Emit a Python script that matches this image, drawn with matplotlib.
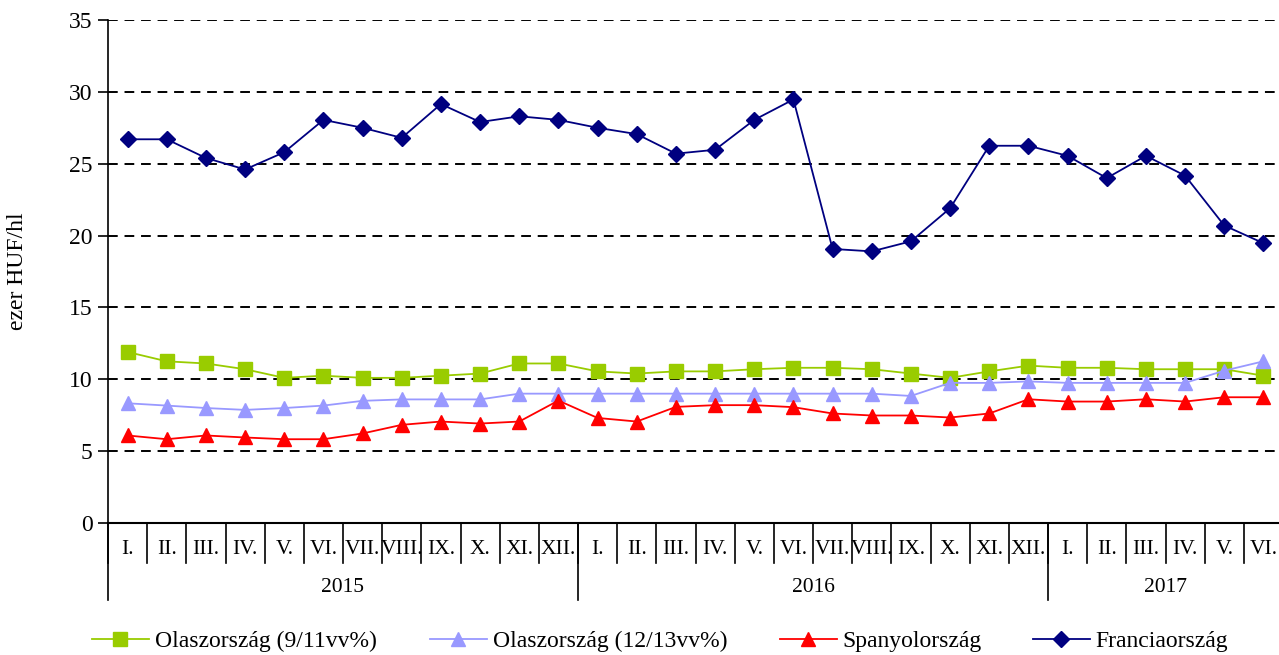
import matplotlib
matplotlib.use("Agg")
import matplotlib.pyplot as plt
import matplotlib.transforms as mtransforms

plt.rcParams['font.family'] = ['Liberation Serif', 'DejaVu Serif']

months = ["I.", "II.", "III.", "IV.", "V.", "VI.", "VII.", "VIII.", "IX.", "X.", "XI.", "XII.",
          "I.", "II.", "III.", "IV.", "V.", "VI.", "VII.", "VIII.", "IX.", "X.", "XI.", "XII.",
          "I.", "II.", "III.", "IV.", "V.", "VI."]
years = ["2015", "2016", "2017"]
year_counts = [12, 12, 6]

olasz_9_11 = [11.9, 11.25, 11.1, 10.7, 10.1, 10.25, 10.1, 10.1, 10.25, 10.4, 11.1, 11.1,
              10.55, 10.4, 10.55, 10.55, 10.7, 10.8, 10.8, 10.7, 10.4, 10.1, 10.55, 10.95,
              10.8, 10.8, 10.7, 10.7, 10.7, 10.25]
olasz_12_13 = [8.33, 8.17, 8.0, 7.87, 8.0, 8.17, 8.5, 8.6, 8.6, 8.6, 9.0, 9.0,
               9.0, 9.0, 9.0, 9.0, 9.0, 9.0, 9.0, 9.0, 8.84, 9.75, 9.75, 9.85,
               9.75, 9.75, 9.75, 9.75, 10.6, 11.25]
spanyol = [6.09, 5.83, 6.09, 5.95, 5.83, 5.83, 6.23, 6.83, 7.06, 6.92, 7.06, 8.52,
           7.31, 7.06, 8.08, 8.2, 8.2, 8.06, 7.62, 7.48, 7.48, 7.34, 7.62, 8.61,
           8.45, 8.45, 8.61, 8.45, 8.75, 8.75]
francia = [26.7, 26.7, 25.4, 24.6, 25.8, 28.05, 27.5, 26.8, 29.15, 27.9, 28.3, 28.05,
           27.5, 27.06, 25.7, 25.97, 28.05, 29.47, 19.07, 18.9, 19.6, 21.9, 26.25, 26.25,
           25.55, 24.0, 25.55, 24.17, 20.7, 19.47]

series_labels = ["Olaszország (9/11vv%)", "Olaszország (12/13vv%)", "Spanyolország", "Franciaország"]

fig = plt.figure(figsize=(12.79, 6.55), dpi=100)
ax = fig.add_axes([108/1279, 1 - 523/655, 1175/1279, 503/655])

x = [i + 0.5 for i in range(len(months))]
l1, = ax.plot(x, olasz_9_11, color="#99CC00", marker="s", markersize=10, lw=1.3, clip_on=False)
l2, = ax.plot(x, olasz_12_13, color="#9999FF", marker="^", markersize=10, lw=1.3, clip_on=False)
l3, = ax.plot(x, spanyol, color="#FF0000", marker="^", markersize=10, lw=1.3, clip_on=False)
l4, = ax.plot(x, francia, color="#000080", marker="D", markersize=8, lw=1.3, clip_on=False)

ax.set_xlim(0, len(months))
ax.set_ylim(0, 35)
ax.set_yticks(range(0, 36, 5))
ax.tick_params(axis='y', labelsize=17, length=7, width=1.2, direction='out', pad=4)
for v in range(5, 36, 5):
    ax.axhline(v, color="black", lw=1.4, ls=(0, (5, 3.5)), zorder=0)
ax.set_xticks([])
for s in ["top", "right"]:
    ax.spines[s].set_visible(False)
ax.spines["left"].set_linewidth(1.2)
ax.spines["bottom"].set_linewidth(1.5)
ax.set_ylabel("ezer HUF/hl", fontsize=17)
ax.yaxis.set_label_coords(-0.068, 0.5)

trans = mtransforms.blended_transform_factory(ax.transData, ax.transAxes)
px = 1 / 503.0  # axes fraction per pixel vertically
for i, m in enumerate(months):
    ax.text(i + 0.5, -27 * px, m, transform=trans, ha="center", va="center", fontsize=15.5, clip_on=False)
for b in range(len(months)):
    ax.plot([b, b], [0, -40 * px], transform=trans, color="black", lw=1.2, clip_on=False)
start = 0
for y, c in zip(years, year_counts):
    ax.plot([start, start], [0, -77 * px], transform=trans, color="black", lw=1.2, clip_on=False)
    ax.text(start + c / 2, -65 * px, y, transform=trans, ha="center", va="center", fontsize=15.5, clip_on=False)
    start += c
ax.plot([start, start], [0, -77 * px], transform=trans, color="black", lw=1.2, clip_on=False)

legend_x = [92, 430, 780, 1033]
for h, lab, lx in zip([l1, l2, l3, l4], series_labels, legend_x):
    fig.legend(handles=[h], labels=[lab], loc="center left",
               bbox_to_anchor=(lx / 1279, 1 - 641/655), frameon=False, fontsize=17,
               handlelength=2.4, handletextpad=0.25, borderpad=0, borderaxespad=0)

fig.savefig("out.png", dpi=100)
